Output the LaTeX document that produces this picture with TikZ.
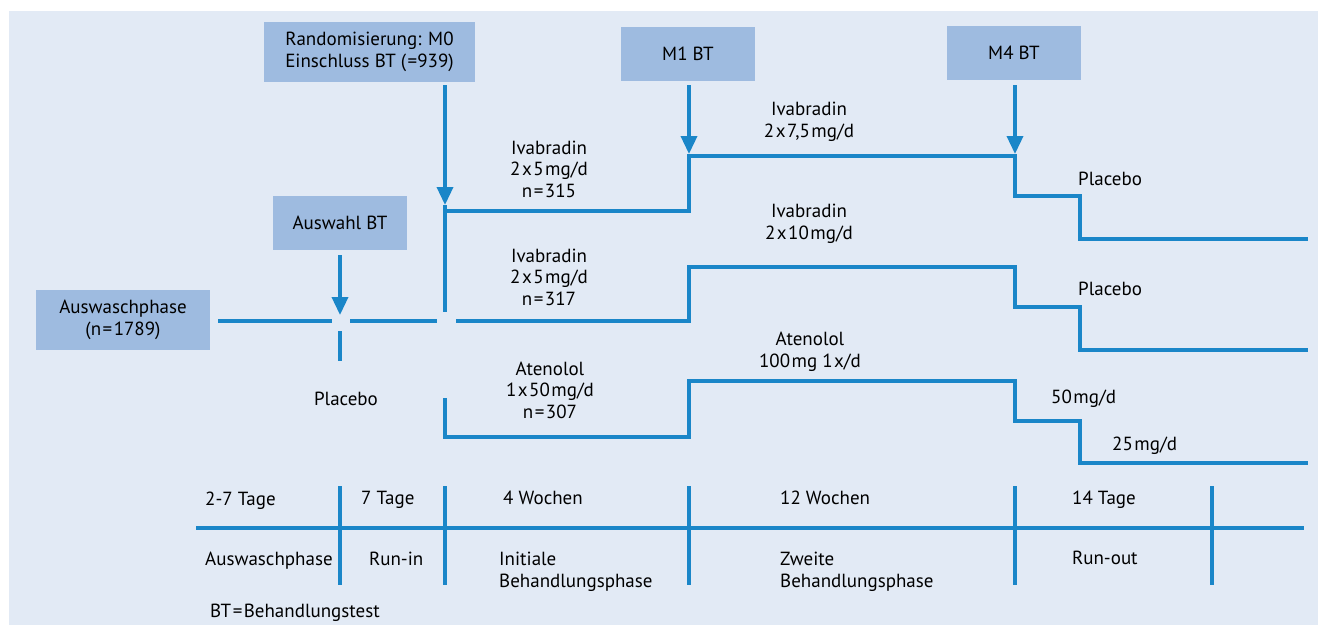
\documentclass[tikz,border=0pt]{standalone}
\usepackage{fontspec}
\setmainfont{PT Sans}
\usetikzlibrary{arrows.meta}
\definecolor{bgblue}{HTML}{E2EAF5}
\definecolor{boxblue}{HTML}{9EBBE0}
\definecolor{lineblue}{HTML}{1A86C8}
\newcommand{\tsp}{\hspace{1.5pt}}
\begin{document}
\begin{tikzpicture}[x=1pt,y=-1pt,
  font=\fontsize{19}{21.5}\selectfont,
  infobox/.style={fill=boxblue,inner sep=0pt,align=center},
  flow/.style={draw=lineblue,line width=3.5pt},
  pointer/.style={flow,-{Triangle[length=18pt,width=16pt]}},
  lbl/.style={align=center,anchor=base,inner sep=0pt},
  llbl/.style={align=left,anchor=base west,inner sep=0pt}]
  \useasboundingbox (0,0) rectangle (1318,625);
  \fill[bgblue] (9,11) rectangle (1318,625);

  % boxes
  \node[infobox,minimum width=211,minimum height=60] (rand) at (369.5,52) {Randomisierung: M0\\Einschluss BT (\tsp=939)};
  \node[infobox,minimum width=134,minimum height=54] (auswahl) at (340,223) {Auswahl BT};
  \node[infobox,minimum width=174,minimum height=60] (wash) at (123,320) {Auswaschphase\\(n\tsp=\tsp1789)};
  \node[infobox,minimum width=134,minimum height=54] (mone) at (688,54) {M1 BT};
  \node[infobox,minimum width=134,minimum height=54] (mfour) at (1014,53) {M4 BT};

  % points on the branches
  \coordinate (randtip) at (445,205);
  \coordinate (auswahltip) at (340,315);
  \coordinate (monetip) at (689,154);
  \coordinate (mfourtip) at (1015,154);

  % arrows
  \draw[pointer] (rand.south -| randtip) ++(0,3) -- (randtip);
  \draw[flow] (randtip) -- (445,312);
  \draw[pointer] (auswahl.south) ++(0,5) -- (auswahltip);
  \draw[flow] (340,331) -- (340,361);
  \draw[pointer] (mone.south -| monetip) ++(0,4) -- (monetip);
  \draw[pointer] (mfour.south -| mfourtip) ++(0,5) -- (mfourtip);

  % washout line
  \draw[flow] (wash.east) ++(8,1) -- (332,321);
  \draw[flow] (350,321) -- (437,321);

  % branches
  \draw[flow] (445,211) -- (689,211) -- (689,156) -- (1015,156) -- (1015,196)
    -- (1080,196) -- (1080,239) -- (1308,239);
  \draw[flow] (456,321) -- (689,321) -- (689,267) -- (1015,267) -- (1015,307)
    -- (1080,307) -- (1080,350) -- (1308,350);
  \draw[flow] (445,398) -- (445,437) -- (689,437) -- (689,381) -- (1015,381)
    -- (1015,421) -- (1080,421) -- (1080,463) -- (1308,463);

  % branch labels (base = last line)
  \node[lbl] (ivafive) at (549,197) {Ivabradin\\2\tsp x\tsp5\tsp mg/d\\n\tsp=\tsp315};
  \node[lbl] (ivaseven) at (809,137) {Ivabradin\\2\tsp x\tsp7,5\tsp mg/d};
  \node[llbl] (plaone) at (1078,185) {Placebo};
  \node[lbl] (ivaten) at (809,239) {Ivabradin\\2\tsp x\tsp10\tsp mg/d};
  \node[lbl] (ivafivetwo) at (549,305) {Ivabradin\\2\tsp x\tsp5\tsp mg/d\\n\tsp=\tsp317};
  \node[llbl] (platwo) at (1078,295) {Placebo};
  \node[lbl] (atehundred) at (810,367) {Atenolol\\100\tsp mg 1\tsp x/d};
  \node[lbl] (atefifty) at (550,418) {Atenolol\\1\tsp x\tsp50\tsp mg/d\\n\tsp=\tsp307};
  \node[llbl] (atehalf) at (1051,403) {50\tsp mg/d};
  \node[llbl] (atequarter) at (1112,450) {25\tsp mg/d};
  \node[lbl] (plarunin) at (346,405) {Placebo};

  % time line
  \draw[flow] (196,528) -- (1304,528);
  \foreach \tx in {340,445,689,1015,1212}
    \draw[flow] (\tx,486) -- (\tx,585);
  \node[llbl] at (205,505) {2-7 Tage};
  \node[llbl] at (361,504) {7 Tage};
  \node[llbl] at (503,504) {4 Wochen};
  \node[llbl] at (780,504) {12 Wochen};
  \node[llbl] at (1072,504) {14 Tage};
  \node[llbl] at (205,565) {Auswaschphase};
  \node[llbl] at (369,565) {Run-in};
  \node[llbl] at (499,587) {Initiale\\Behandlungsphase};
  \node[llbl] at (780,587) {Zweite\\Behandlungsphase};
  \node[llbl] at (1072,564) {Run-out};
  \node[llbl] at (210,617) {BT\tsp=\tsp Behandlungstest};
\end{tikzpicture}
\end{document}
